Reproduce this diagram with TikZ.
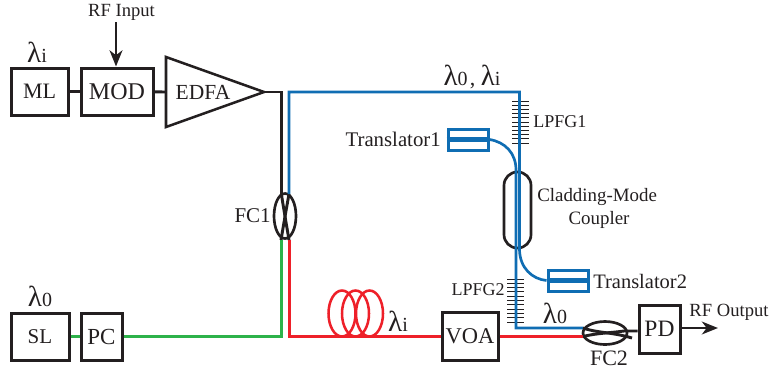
\documentclass[tikz,border=0pt]{standalone}
\usepackage{fontspec}
\setmainfont{Liberation Serif}
\usetikzlibrary{shapes.geometric,arrows.meta}
\definecolor{fibblue}{HTML}{0F6DB3}
\definecolor{fibred}{HTML}{EE2029}
\definecolor{fibgreen}{HTML}{2DB24A}
\definecolor{inkk}{HTML}{231F20}
\newcommand{\pxfont}[1]{\fontsize{\fpeval{#1*0.75}pt}{\fpeval{#1*0.9}pt}\selectfont}
\newcommand{\lam}[1]{{\pxfont{29}λ}{\pxfont{20}#1}}
\tikzset{
  sz/.style 2 args={minimum width=#1*0.75pt,minimum height=#2*0.75pt,inner sep=0pt},
  blk/.style={draw=inkk,line width=2.25pt,text=inkk},
  txt/.style={inner sep=0pt,text=inkk},
  wire/.style={draw=inkk,line width=2.2pt},
  blue/.style={draw=fibblue,line width=2pt},
  redf/.style={draw=fibred,line width=2.2pt},
  greenf/.style={draw=fibgreen,line width=2.2pt},
  tick/.style={draw=inkk,line width=0.7pt},
  trans/.style={draw=fibblue,line width=2.25pt,sz={40}{21}},
  bar/.style={draw=fibblue,line width=3.4pt},
  arr/.style={draw=inkk,line width=2.2pt,-{Stealth[length=12pt,width=9.5pt,inset=3.5pt]}},
}
\begin{document}
\begin{tikzpicture}[x=0.75pt,y=-0.75pt]
\useasboundingbox (0,0) rectangle (770,369);
% boxes
\node[blk,sz={57}{47},font=\pxfont{22}] (ml) at (39.5,91.5) {ML};
\node[blk,sz={72}{47},font=\pxfont{24}] (mod) at (117,91.5) {MOD};
\node[blk,sz={58}{47},font=\pxfont{21}] (sl) at (40,336.5) {SL};
\node[blk,sz={41}{47},font=\pxfont{23}] (pc) at (101.5,336.5) {PC};
\node[blk,sz={56}{48},font=\pxfont{22.5}] (voa) at (470,336) {VOA};
\node[blk,sz={41}{48},font=\pxfont{23.5}] (pd) at (659.5,329) {PD};
% EDFA
\coordinate (edfaT) at (166,57);
\coordinate (edfaB) at (166,127);
\coordinate (edfaO) at (264,92);
\coordinate (edfaI) at (166,92);
\draw[draw=inkk,line width=1.9pt,line join=miter] (edfaT) -- (edfaO) -- (edfaB) -- cycle;
\node[txt,font=\pxfont{21.5}] (edfa) at (203,92) {EDFA};
% couplers
\node[draw=inkk,line width=2pt,ellipse,sz={22}{45}] (fc1) at (285,216) {};
\node[draw=inkk,line width=2pt,ellipse,sz={44}{23}] (fc2) at (605,333) {};
\node[draw=inkk,line width=2pt,rounded corners=10pt,sz={27}{76}] (cmc) at (517.5,210) {};
% gratings
\foreach \i in {0,...,10} {
  \coordinate (ga\i) at (512,101+4.2*\i);
  \coordinate (gb\i) at (529,101+4.2*\i);
  \draw[tick] (ga\i) -- (gb\i);
  \coordinate (gc\i) at (507,279+4.3*\i);
  \coordinate (gd\i) at (524,279+4.3*\i);
  \draw[tick] (gc\i) -- (gd\i);
}
% connectors black
\draw[wire] (ml) -- (mod);
\draw[wire] (mod) -- (edfaI);
\coordinate (b1) at (281.4,92);
\coordinate (c1nw) at (281.4,194);
\coordinate (c1ne) at (289,194);
\coordinate (c1sw) at (281,240);
\coordinate (c1se) at (289,240);
\draw[wire] (edfaO) -- (b1) -- (c1nw);
\draw[wire] (c1nw) .. controls (283,205) and (287,228) .. (c1se);
\draw[wire] (c1ne) .. controls (287,205) and (283,228) .. (c1sw);
% blue fibre
\coordinate (u1) at (289,92);
\coordinate (u2) at (519.5,92);
\coordinate (u3) at (519.5,250);
\coordinate (l1) at (516,170);
\coordinate (l2) at (516,328);
\coordinate (f2a) at (583,328);
\coordinate (f2b) at (583,336.5);
\node[trans] (t1) at (468,139.5) {};
\node[trans] (t2) at (568,280.5) {};
\draw[bar] (t1.west) -- (t1.east);
\draw[bar] (t2.west) -- (t2.east);
\draw[blue,line join=miter] (c1ne) -- (u1) -- (u2) -- (u3) .. controls (520,268) and (532,279) .. (t2.west);
\draw[blue,line join=miter] (t1.east) .. controls (505,142) and (516,153) .. (l1) -- (l2) -- (f2a);
% red and green
\coordinate (r1) at (289.4,336.5);
\coordinate (g1) at (281.4,336.6);
\draw[redf,line join=miter] (c1se -| r1) -- (r1) -- (voa.west |- r1);
\draw[redf] (voa.east |- r1) -- (f2b);
\draw[greenf,line join=miter] (c1sw -| g1) -- (g1) -- (pc.east |- g1);
\draw[greenf] (sl.east |- g1) -- (pc.west |- g1);
% coil
\foreach \c/\n in {342/a,355.5/b,369.5/c}
  \node[draw=fibred,line width=1.9pt,ellipse,sz={27}{46}] (coil\n) at (\c,313.5) {};
% FC2 inside
\coordinate (f2c) at (632,338);
\coordinate (f2d) at (624,331);
\draw[wire] (f2a) .. controls (597,333) and (612,332) .. (f2c);
\draw[wire] (f2b) .. controls (597,333) and (610,333) .. (f2d) -- (pd.west |- f2d);
% arrows
\coordinate (rfin) at (116,22);
\coordinate (rfout) at (718,328);
\draw[arr] (rfin) -- (mod.north -| rfin);
\draw[arr] (pd.east |- rfout) -- (rfout);
% labels
\node[txt,font=\pxfont{18.6}] (lrfi) at (121.5,12) {RF Input};
\node[txt,font=\pxfont{18.6}] (lrfo) at (729,312) {RF Output};
\node[txt] (lli1) at (37,52) {\lam{i}};
\node[txt] (ll01) at (40,296) {\lam{0}};
\node[txt] (lboth) at (472,77) {\lam{0}\,{\pxfont{22}, }\lam{i}};
\node[txt] (lli2) at (398,321) {\lam{i}};
\node[txt] (ll02) at (555,313) {\lam{0}};
\node[txt,font=\pxfont{21},anchor=east] (lfc1) at (271,216) {FC1};
\node[txt,font=\pxfont{22}] (lfc2) at (609,358) {FC2};
\node[txt,font=\pxfont{18},anchor=west] (lg1) at (533,122) {LPFG1};
\node[txt,font=\pxfont{18},anchor=east] (lg2) at (505,290) {LPFG2};
\node[txt,font=\pxfont{20.8},anchor=east] (lt1) at (441,139) {Translator1};
\node[txt,font=\pxfont{20.5},anchor=west] (lt2) at (593,281) {Translator2};
\node[txt,font=\pxfont{18.9},anchor=west] (lcm) at (537,197) {Cladding-Mode};
\node[txt,font=\pxfont{18.9}] (lcp) at (599,220) {Coupler};
\end{tikzpicture}
\end{document}
